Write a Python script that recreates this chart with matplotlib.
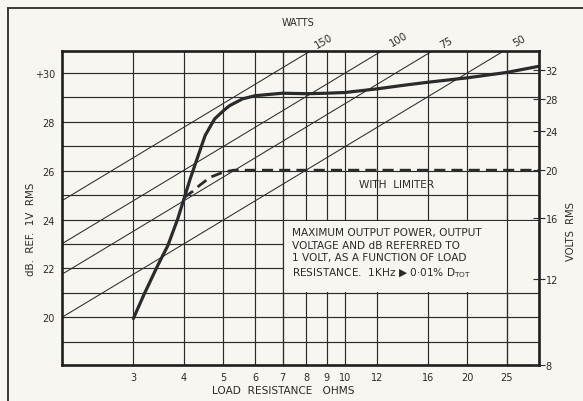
import numpy as np
import matplotlib
matplotlib.use("Agg")
import matplotlib.pyplot as plt
from matplotlib.lines import Line2D
from matplotlib.patches import Rectangle

# ---- data ----
x_ticks = [3, 4, 5, 6, 7, 8, 9, 10, 12, 16, 20, 25]
y_ticks = [20, 22, 24, 26, 28, 30]
y_tick_labels = ["20", "22", "24", "26", "28", "+30"]
volts_ticks = [8, 12, 16, 20, 24, 28, 32]
watt_lines = [150, 100, 75, 50]

# max output (no limiter)
r_max = [3.0, 3.18, 3.44, 3.65, 3.86, 4.0, 4.14, 4.28, 4.51, 4.76, 5.0, 5.18,
         5.58, 6.0, 7.0, 8.0, 9.0, 10.0, 12.0, 14.0, 16.0, 20.0, 25.0, 30.0]
db_max = [19.95, 20.9, 22.1, 22.94, 24.03, 24.85, 25.65, 26.35, 27.44, 28.12, 28.45, 28.66,
          28.94, 29.07, 29.17, 29.15, 29.17, 29.2, 29.35, 29.5, 29.62, 29.8, 30.02, 30.27]

# with limiter
r_lim = [4.0, 4.2, 4.37, 4.64, 5.0, 5.3, 30.0]
db_lim = [24.9, 25.15, 25.4, 25.73, 25.94, 26.02, 26.02]

INK = "#2b2b2b"
BG = "#f8f6f0"
W, H = 583, 402

fig = plt.figure(figsize=(5.83, 4.02), dpi=100, facecolor=BG)
ax = fig.add_axes([62/W, 1-365.7/H, (538.7-62)/W, (365.7-51.7)/H])
ax.set_facecolor(BG)
ax.set_xscale("log")
ax.set_xlim(2.0, 30.0)
ax.set_ylim(18.06, 30.91)

# grid
for yv in range(19, 31):
    ax.axhline(yv, color=INK, lw=0.85, zorder=1)
for xv in x_ticks:
    ax.axvline(xv, color=INK, lw=0.85, zorder=1)

# constant power lines: dB = 10 log10(P * R)
rr = np.geomspace(2.0, 30.0, 50)
for p in watt_lines:
    ax.plot(rr, 10*np.log10(p*rr), color=INK, lw=0.75, zorder=1.5)

# annotation box (blank area)
ax.add_patch(Rectangle((7.0, 21.04), 23.0, 2.92, facecolor=BG, edgecolor="none", zorder=2))
ax.axvline(7, color=INK, lw=0.85, zorder=2.1)
ax.axvline(25, color=INK, lw=0.85, zorder=2.1)

ax.plot(r_max, db_max, color=INK, lw=2.3, zorder=4, solid_capstyle="round")
ax.plot(r_lim, db_lim, color=INK, lw=2.0, zorder=4, dashes=(4, 2.2))

ax.text(13.4, 25.45, "WITH  LIMITER", fontsize=7.6, color=INK, ha="center", va="center", zorder=5)

note = ("MAXIMUM OUTPUT POWER, OUTPUT\n"
        "VOLTAGE AND dB REFERRED TO\n"
        "1 VOLT, AS A FUNCTION OF LOAD\n"
        "RESISTANCE.  1KHz \u25B6 0\u00B701% D$_{\\mathrm{TOT}}$")
ax.text(7.4, 23.68, note, fontsize=7.6, color=INK, ha="left", va="top",
        linespacing=1.3, zorder=5)

# axes formatting
ax.set_xticks(x_ticks)
ax.set_xticklabels([str(v) for v in x_ticks])
ax.xaxis.set_minor_locator(matplotlib.ticker.NullLocator())
ax.set_yticks(y_ticks)
ax.set_yticklabels(y_tick_labels)
ax.tick_params(axis="both", length=0, labelsize=7, labelcolor=INK, pad=5)
for s in ax.spines.values():
    s.set_linewidth(1.9)
    s.set_color("#1e1e1e")
    s.set_zorder(6)

ax2 = ax.twinx()
ax2.set_ylim(ax.get_ylim())
ax2.set_yticks([20*np.log10(v) for v in volts_ticks])
ax2.set_yticklabels([str(v) for v in volts_ticks])
ax2.tick_params(axis="y", direction="inout", length=8, width=0.8, color=INK,
                labelsize=7, labelcolor=INK, pad=1)
for s in ax2.spines.values():
    s.set_visible(False)

# axis titles
fig.text(283/W, 1-391/H, "LOAD  RESISTANCE   OHMS", fontsize=7.6, color=INK,
         ha="center", va="center")
fig.text(31.5/W, 1-229/H, "dB.  REF.  1V  RMS", fontsize=7.4, color=INK,
         rotation=90, ha="center", va="center")
fig.text(571/W, 1-232/H, "VOLTS  RMS", fontsize=7.2, color=INK,
         rotation=90, ha="center", va="center")

# watts labels
for p, (xp, yp) in zip(watt_lines, [(324, 42), (399, 40), (446, 43), (519, 41)]):
    fig.text(xp/W, 1-yp/H, str(p), fontsize=7.3, color=INK, rotation=30,
             ha="center", va="center")
fig.text(298/W, 1-23/H, "WATTS", fontsize=7, color=INK, ha="center", va="center")

# outer frame
fig.add_artist(Line2D([8.3/W, 1.0], [1-9.3/H, 1-9.3/H], transform=fig.transFigure,
                      color=INK, lw=1.3))
fig.add_artist(Line2D([8.3/W, 8.3/W], [0.0, 1-9.3/H], transform=fig.transFigure,
                      color=INK, lw=1.3))

fig.savefig("out.png", dpi=100, facecolor=BG)
